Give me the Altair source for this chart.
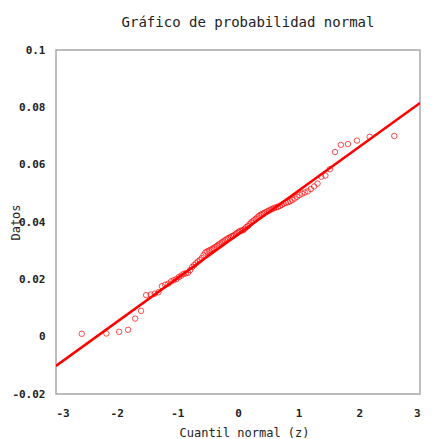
import altair as alt
import pandas as pd

# Normal quantiles (z) for n = 100 ordered observations
z_vals = [-2.576, -2.170, -1.960, -1.812, -1.695, -1.598, -1.514, -1.440, -1.372, -1.311,
          -1.254, -1.200, -1.150, -1.103, -1.058, -1.015, -0.974, -0.935, -0.896, -0.860,
          -0.824, -0.789, -0.755, -0.722, -0.690, -0.659, -0.628, -0.598, -0.568, -0.539,
          -0.510, -0.482, -0.454, -0.426, -0.399, -0.372, -0.345, -0.319, -0.292, -0.266,
          -0.240, -0.215, -0.189, -0.164, -0.138, -0.113, -0.088, -0.063, -0.038, -0.013,
          0.013, 0.038, 0.063, 0.088, 0.113, 0.138, 0.164, 0.189, 0.215, 0.240,
          0.266, 0.292, 0.319, 0.345, 0.372, 0.399, 0.426, 0.454, 0.482, 0.510,
          0.539, 0.568, 0.598, 0.628, 0.659, 0.690, 0.722, 0.755, 0.789, 0.824,
          0.860, 0.896, 0.935, 0.974, 1.015, 1.058, 1.103, 1.150, 1.200, 1.254,
          1.311, 1.372, 1.440, 1.514, 1.598, 1.695, 1.812, 1.960, 2.170, 2.576]

# Ordered data values
datos = [0.0010, 0.0011, 0.0017, 0.0024, 0.0063, 0.0090, 0.0145, 0.0147, 0.0150, 0.0155,
         0.0176, 0.0181, 0.0185, 0.0193, 0.0197, 0.0201, 0.0208, 0.0213, 0.0219, 0.0221,
         0.0223, 0.0232, 0.0243, 0.0250, 0.0256, 0.0262, 0.0267, 0.0274, 0.0284, 0.0293,
         0.0297, 0.0300, 0.0303, 0.0306, 0.0309, 0.0313, 0.0317, 0.0321, 0.0325, 0.0329,
         0.0332, 0.0336, 0.0340, 0.0343, 0.0346, 0.0349, 0.0351, 0.0354, 0.0358, 0.0362,
         0.0366, 0.0369, 0.0370, 0.0372, 0.0377, 0.0382, 0.0386, 0.0392, 0.0398, 0.0402,
         0.0406, 0.0411, 0.0416, 0.0421, 0.0425, 0.0428, 0.0431, 0.0434, 0.0437, 0.0440,
         0.0443, 0.0446, 0.0449, 0.0451, 0.0453, 0.0456, 0.0460, 0.0464, 0.0467, 0.0469,
         0.0472, 0.0477, 0.0482, 0.0488, 0.0494, 0.0499, 0.0503, 0.0507, 0.0515, 0.0524,
         0.0534, 0.0558, 0.0562, 0.0584, 0.0644, 0.0669, 0.0672, 0.0684, 0.0697, 0.0700]

# Fitted reference line end points
line_z = [-3, 3]
line_y = [-0.0102, 0.0815]

x_ticks = [-3, -2, -1, 0, 1, 2, 3]
y_ticks = [-0.02, 0, 0.02, 0.04, 0.06, 0.08, 0.1]

pts = pd.DataFrame({"z": z_vals, "y": datos})
ln = pd.DataFrame({"z": line_z, "y": line_y})

FONT = "DejaVu Sans Mono"

xscale = alt.Scale(domain=[-3, 3], nice=False, zero=False)
yscale = alt.Scale(domain=[-0.02, 0.1], nice=False, zero=False)

xaxis = alt.Axis(title="Cuantil normal (z)", values=x_ticks, labelExpr="datum.value + ''",
                 grid=False, ticks=False, domain=False, labelPadding=13,
                 labelFont=FONT, labelFontSize=11, labelFontWeight="bold", labelColor="#222",
                 titleFont=FONT, titleFontSize=12, titleFontWeight="normal", titleColor="#222",
                 titlePadding=9, titleX=188)
yaxis = alt.Axis(title="Datos", values=y_ticks, labelExpr="datum.value + ''",
                 grid=False, ticks=False, domain=False, labelPadding=11,
                 labelFont=FONT, labelFontSize=11, labelFontWeight="bold", labelColor="#222",
                 titleFont=FONT, titleFontSize=12, titleFontWeight="normal", titleColor="#222",
                 titleAngle=-90, titleX=-41, titleY=172, titleAlign="center", titleBaseline="middle")

points = alt.Chart(pts).mark_point(shape="circle", filled=False, color="#ff0000",
                                   size=30, strokeWidth=1).encode(
    x=alt.X("z:Q", scale=xscale, axis=xaxis),
    y=alt.Y("y:Q", scale=yscale, axis=yaxis),
)

line = alt.Chart(ln).mark_line(color="#ff0000", strokeWidth=2.5, clip=True).encode(
    x=alt.X("z:Q", scale=xscale),
    y=alt.Y("y:Q", scale=yscale),
)

chart = alt.layer(line, points).properties(
    width=364, height=344,
    title=alt.TitleParams("Gráfico de probabilidad normal", font=FONT, fontSize=14,
                          fontWeight="normal", color="#222", offset=14.5, dx=10),
    autosize=alt.AutoSizeParams(type="none"),
    padding={"top": 42, "left": 48, "right": 4, "bottom": 44},
).configure_view(stroke="#a8a8a8", strokeWidth=1.5)

chart.save("out.html", embed_options={"renderer": "svg", "actions": False})
